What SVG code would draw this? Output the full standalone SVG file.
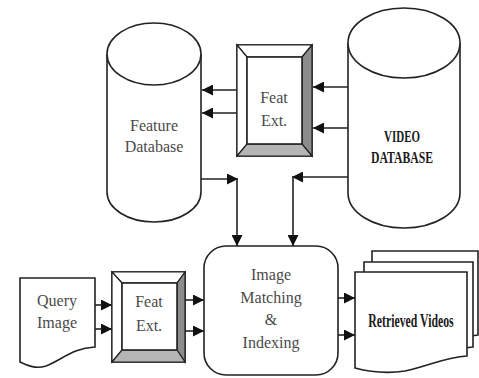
<svg xmlns="http://www.w3.org/2000/svg" width="479" height="378" viewBox="0 0 479 378">
  <style>
    .shape { fill: #fff; stroke: #222; stroke-width: 1.6; }
    .edge { fill: none; stroke: #222; stroke-width: 1.6; }
    .lbl { font-family: "Liberation Serif", "DejaVu Serif", serif; font-size: 16px; fill: #4a4a4a; text-anchor: middle; }
    .cond { font-family: "Liberation Serif", "DejaVu Serif", serif; fill: #1a1a1a; text-anchor: middle; font-weight: bold; }
    .bev-light { fill: #fff; stroke: #222; stroke-width: 1.2; }
    .bev-dark { fill: #8c8c8c; stroke: #222; stroke-width: 1.2; }
    .bev-mid { fill: #b5b5b5; stroke: #222; stroke-width: 1.2; }
  </style>
  <defs>
    <marker id="arrow" viewBox="0 0 10 10" refX="10" refY="5" markerWidth="11" markerHeight="11" markerUnits="userSpaceOnUse" orient="auto">
      <path d="M0,0 L10,5 L0,10 Z" fill="#111"/>
    </marker>
  </defs>

  <rect width="479" height="378" fill="#fff"/>

  <!-- Feature Database cylinder -->
  <g id="feature-db">
    <path class="shape" d="M107,54 L107,192 A47,30 0 0 0 201,192 L201,54"/>
    <ellipse class="shape" cx="154" cy="54" rx="47" ry="31"/>
    <text class="lbl" x="154" y="131">Feature</text>
    <text class="lbl" x="154" y="152">Database</text>
  </g>

  <!-- Video Database cylinder -->
  <g id="video-db">
    <path class="shape" d="M348,43 L348,193 A56,35 0 0 0 460,193 L460,43"/>
    <ellipse class="shape" cx="404" cy="43" rx="56" ry="35"/>
    <text class="cond" x="402" y="142" font-size="17" textLength="36" lengthAdjust="spacingAndGlyphs">VIDEO</text>
    <text class="cond" x="402" y="163" font-size="17" textLength="62" lengthAdjust="spacingAndGlyphs">DATABASE</text>
  </g>

  <!-- Upper feature extraction block -->
  <g id="feat-ext-top">
    <rect class="shape" x="237" y="45" width="75" height="111"/>
    <path class="bev-light" d="M237,45 L312,45 L302,57 L247,57 Z"/>
    <path class="bev-light" d="M237,45 L247,57 L247,144 L237,156 Z"/>
    <path class="bev-dark" d="M312,45 L312,156 L302,144 L302,57 Z"/>
    <path class="bev-mid" d="M237,156 L312,156 L302,144 L247,144 Z"/>
    <rect class="shape" x="247" y="57" width="55" height="87" stroke-width="1.2"/>
    <text class="lbl" x="274" y="103">Feat</text>
    <text class="lbl" x="274" y="126">Ext.</text>
  </g>

  <!-- Query image document -->
  <g id="query-image">
    <path class="shape" d="M20,278 L95,278 L95,347 C72,348 62,360 46,366 C36,369 28,366 20,362 Z"/>
    <text class="lbl" x="57" y="306">Query</text>
    <text class="lbl" x="57" y="328">Image</text>
  </g>

  <!-- Lower feature extraction block -->
  <g id="feat-ext-bottom">
    <rect class="shape" x="112" y="272" width="73" height="90"/>
    <path class="bev-light" d="M112,272 L185,272 L177,283 L122,283 Z"/>
    <path class="bev-light" d="M112,272 L122,283 L122,350 L112,362 Z"/>
    <path class="bev-dark" d="M185,272 L185,362 L177,350 L177,283 Z"/>
    <path class="bev-mid" d="M112,362 L185,362 L177,350 L122,350 Z"/>
    <rect class="shape" x="122" y="283" width="55" height="67" stroke-width="1.2"/>
    <text class="lbl" x="149" y="307">Feat</text>
    <text class="lbl" x="149" y="331">Ext.</text>
  </g>

  <!-- Matching and indexing process -->
  <g id="matching">
    <rect class="shape" x="204" y="246" width="134" height="129" rx="22" ry="22"/>
    <text class="lbl" x="271" y="280">Image</text>
    <text class="lbl" x="271" y="303">Matching</text>
    <text class="lbl" x="271" y="325">&amp;</text>
    <text class="lbl" x="271" y="348">Indexing</text>
  </g>

  <!-- Retrieved videos: stacked documents -->
  <g id="retrieved-videos">
    <path class="shape" d="M372,251 L478,251 L478,335 C460,336 450,346 430,352 C410,357 390,354 372,350 Z"/>
    <path class="shape" d="M364,262 L473,262 L473,347 C455,348 440,358 420,364 C400,368 382,365 364,360 Z"/>
    <path class="shape" d="M355,272 L467,272 L467,356 C445,357 430,366 405,371 C385,374 370,372 355,368 Z"/>
    <text class="cond" transform="translate(411,327) scale(0.62,1)" x="0" y="0" font-size="19">Retrieved Videos</text>
  </g>

  <!-- Connectors -->
  <g id="connectors">
    <line class="edge" x1="237" y1="90" x2="202" y2="90" marker-end="url(#arrow)"/>
    <line class="edge" x1="237" y1="113" x2="202" y2="113" marker-end="url(#arrow)"/>
    <line class="edge" x1="348" y1="87" x2="313" y2="87" marker-end="url(#arrow)"/>
    <line class="edge" x1="348" y1="128" x2="313" y2="128" marker-end="url(#arrow)"/>
    <line class="edge" x1="201" y1="179" x2="238" y2="179" marker-end="url(#arrow)"/>
    <line class="edge" x1="237" y1="179" x2="237" y2="246" marker-end="url(#arrow)"/>
    <line class="edge" x1="348" y1="177" x2="292" y2="177" marker-end="url(#arrow)"/>
    <line class="edge" x1="293" y1="177" x2="293" y2="246" marker-end="url(#arrow)"/>
    <line class="edge" x1="95" y1="305" x2="112" y2="305" marker-end="url(#arrow)"/>
    <line class="edge" x1="95" y1="329" x2="112" y2="329" marker-end="url(#arrow)"/>
    <line class="edge" x1="185" y1="300" x2="204" y2="300" marker-end="url(#arrow)"/>
    <line class="edge" x1="185" y1="331" x2="204" y2="331" marker-end="url(#arrow)"/>
    <line class="edge" x1="338" y1="298" x2="355" y2="298" marker-end="url(#arrow)"/>
    <line class="edge" x1="338" y1="335" x2="355" y2="335" marker-end="url(#arrow)"/>
  </g>
</svg>
